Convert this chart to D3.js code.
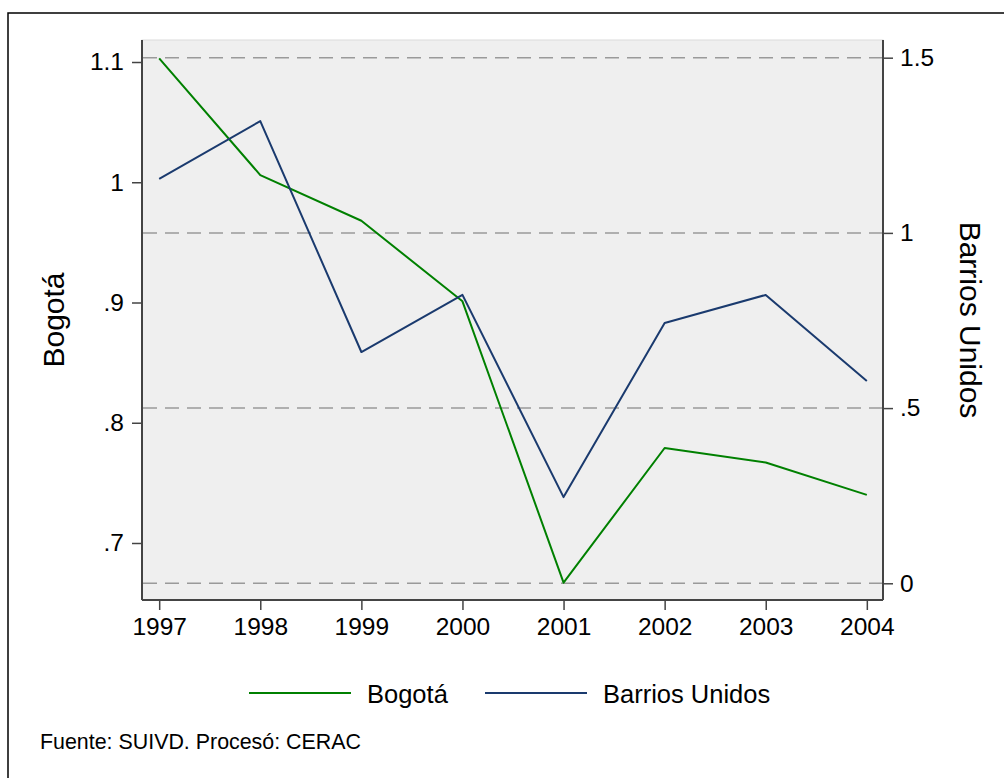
<!DOCTYPE html>
<html>
<head>
<meta charset="utf-8">
<script src="https://cdn.jsdelivr.net/npm/d3@7"></script>
<style>
  body { margin: 0; background: #fff; }
  svg { font-family: "Liberation Sans", Arial, sans-serif; }
</style>
</head>
<body>
<div id="chart"></div>
<script>
// data
const years = [1997, 1998, 1999, 2000, 2001, 2002, 2003, 2004];
const bogota = [1.103, 1.006, 0.968, 0.901, 0.667, 0.779, 0.767, 0.740];
const barriosUnidos = [1.154, 1.319, 0.660, 0.823, 0.246, 0.743, 0.823, 0.577];
const leftTicks = [0.7, 0.8, 0.9, 1.0, 1.1];
const leftTickLabels = [".7", ".8", ".9", "1", "1.1"];
const rightTicks = [0, 0.5, 1, 1.5];
const rightTickLabels = ["0", ".5", "1", "1.5"];
const seriesNames = ["Bogotá", "Barrios Unidos"];
const note = "Fuente: SUIVD. Procesó: CERAC";

const W = 1004, H = 778;
const plot = { left: 142, right: 883, top: 40, bottom: 600 };

const svg = d3.select("#chart").append("svg")
    .attr("width", W)
    .attr("height", H);

// outer frame (clipped on right/bottom like the original)
svg.append("rect")
    .attr("x", 8).attr("y", 13)
    .attr("width", W + 10).attr("height", H + 10)
    .attr("fill", "#fff")
    .attr("stroke", "#000")
    .attr("stroke-width", 1.5);

const x = d3.scaleLinear()
    .domain([1996.83, 2004.16])
    .range([plot.left, plot.right]);

const yL = d3.scaleLinear()
    .domain([0.6526, 1.1183])
    .range([plot.bottom, plot.top]);

const yR = d3.scaleLinear()
    .domain([-0.0477, 1.5505])
    .range([plot.bottom, plot.top]);

// plot region
svg.append("rect")
    .attr("x", plot.left).attr("y", plot.top)
    .attr("width", plot.right - plot.left)
    .attr("height", plot.bottom - plot.top)
    .attr("fill", "#efefef")
    .attr("stroke", "#dcdcdc")
    .attr("stroke-width", 1);

// grid lines from the right axis
svg.append("g")
    .selectAll("line")
    .data(rightTicks)
    .join("line")
    .attr("x1", plot.left + 1)
    .attr("x2", plot.right - 1)
    .attr("y1", d => yR(d))
    .attr("y2", d => yR(d))
    .attr("stroke", "#9a9a9a")
    .attr("stroke-width", 1.5)
    .attr("stroke-dasharray", "14 8");

// series lines
const colors = ["#008000", "#1a3a6e"];
const line = (scale) => d3.line()
    .x((d, i) => x(years[i]))
    .y(d => scale(d));

svg.append("path")
    .datum(bogota)
    .attr("fill", "none")
    .attr("stroke", colors[0])
    .attr("stroke-width", 2)
    .attr("stroke-linejoin", "round")
    .attr("d", line(yL));

svg.append("path")
    .datum(barriosUnidos)
    .attr("fill", "none")
    .attr("stroke", colors[1])
    .attr("stroke-width", 2)
    .attr("stroke-linejoin", "round")
    .attr("d", line(yR));

// axes
function styleAxis(g, size) {
    g.select(".domain").remove();
    g.selectAll(".tick line").attr("stroke", "#444").attr("stroke-width", 1.5);
    g.selectAll(".tick text")
        .attr("fill", "#000")
        .style("font-size", size + "px")
        .style("font-family", "'Liberation Sans', Arial, sans-serif");
}

const xAxis = d3.axisBottom(x)
    .tickValues(years)
    .tickFormat(d3.format("d"))
    .tickSize(10)
    .tickPadding(8);

svg.append("g")
    .attr("transform", `translate(0,${plot.bottom})`)
    .call(xAxis)
    .call(g => styleAxis(g, 24.5));

const yAxisL = d3.axisLeft(yL)
    .tickValues(leftTicks)
    .tickFormat((d, i) => leftTickLabels[i])
    .tickSize(10)
    .tickPadding(8);

svg.append("g")
    .attr("transform", `translate(${plot.left},0)`)
    .call(yAxisL)
    .call(g => styleAxis(g, 24.5));

const yAxisR = d3.axisRight(yR)
    .tickValues(rightTicks)
    .tickFormat((d, i) => rightTickLabels[i])
    .tickSize(10)
    .tickPadding(7);

svg.append("g")
    .attr("transform", `translate(${plot.right},0)`)
    .call(yAxisR)
    .call(g => styleAxis(g, 24.5));

// axis lines
const axisLines = [
    [plot.left, plot.top, plot.left, plot.bottom],
    [plot.right, plot.top, plot.right, plot.bottom],
    [plot.left, plot.bottom, plot.right, plot.bottom]
];
svg.append("g")
    .selectAll("line")
    .data(axisLines)
    .join("line")
    .attr("x1", d => d[0]).attr("y1", d => d[1])
    .attr("x2", d => d[2]).attr("y2", d => d[3])
    .attr("stroke", "#444")
    .attr("stroke-width", 2);

// axis titles
svg.append("text")
    .attr("transform", `translate(64,${(plot.top + plot.bottom) / 2}) rotate(-90)`)
    .attr("text-anchor", "middle")
    .style("font-size", "30px")
    .text(seriesNames[0]);

svg.append("text")
    .attr("transform", `translate(960,${(plot.top + plot.bottom) / 2}) rotate(90)`)
    .attr("text-anchor", "middle")
    .style("font-size", "30px")
    .text(seriesNames[1]);

// legend
const legendItems = [
    { x0: 249, x1: 351, tx: 367, name: seriesNames[0], color: colors[0] },
    { x0: 485, x1: 587, tx: 603, name: seriesNames[1], color: colors[1] }
];
const legend = svg.append("g");
legend.selectAll("line")
    .data(legendItems)
    .join("line")
    .attr("x1", d => d.x0).attr("x2", d => d.x1)
    .attr("y1", 693).attr("y2", 693)
    .attr("stroke", d => d.color)
    .attr("stroke-width", 2);
legend.selectAll("text")
    .data(legendItems)
    .join("text")
    .attr("x", d => d.tx)
    .attr("y", 703)
    .style("font-size", "25.5px")
    .text(d => d.name);

// source note
svg.append("text")
    .attr("x", 40)
    .attr("y", 749)
    .style("font-size", "21.4px")
    .text(note);
</script>
</body>
</html>
